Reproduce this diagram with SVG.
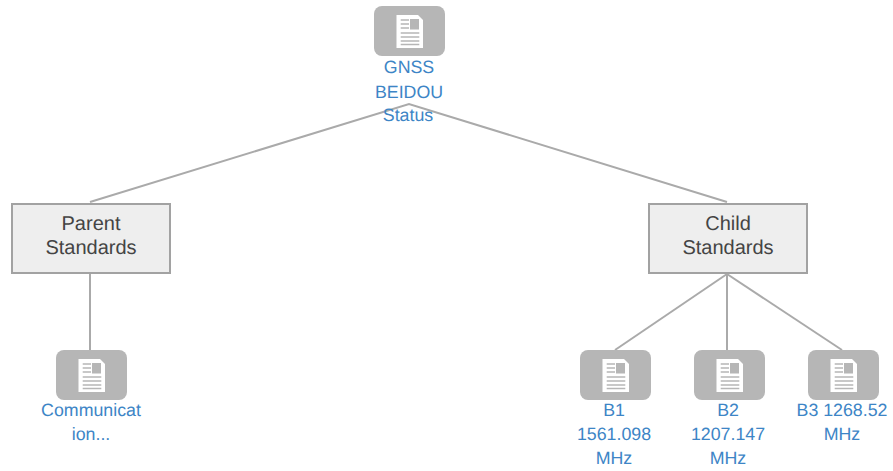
<svg xmlns="http://www.w3.org/2000/svg" width="893" height="471" viewBox="0 0 893 471">
<style>
text{font-family:"Liberation Sans",Arial,sans-serif;text-anchor:middle;text-rendering:geometricPrecision}
.l{font-size:17.8px;fill:#3d85c6}
.s{font-size:20px;fill:#444}
.box{fill:#eee;stroke:#a2a2a2;stroke-width:2}
.ic{fill:#b6b6b6}
.c{stroke:#aaa;stroke-width:2;fill:none}
</style>
<defs>
<g id="doc">
<rect x="0" y="0" width="71" height="50" rx="8" class="ic"/>
<path d="M22.500 9H44L49 14V42H22.500Z" fill="#fff"/>
<path d="M26.700 14H35M26.700 18H35M26.700 22H35" stroke="#b6b6b6" stroke-width="1.600" fill="none"/>
<rect x="36" y="13" width="9" height="10.500" fill="#b6b6b6"/>
<path d="M26.700 27H45.300M26.700 31H45.300M26.700 35H45.300M26.700 38.500H45.300" stroke="#b6b6b6" stroke-width="1.600" fill="none"/>
</g>
</defs>
<g id="connectors">
<path class="c" d="M90 202L409 104L727 202"/>
<path class="c" d="M90 273V350"/>
<path class="c" d="M727 274L615 350"/>
<path class="c" d="M727 274V350"/>
<path class="c" d="M727 274L842 350"/>
</g>
<g id="n-root">
<use href="#doc" x="374" y="6"/>
<text class="l" x="409" y="73">GNSS</text>
<text class="l" x="409" y="97.500">BEIDOU</text>
<text class="l" x="408" y="121">Status</text>
</g>
<g id="n-parent">
<rect class="box" x="12" y="204" width="158" height="69"/>
<text class="s" x="91" y="230">Parent</text>
<text class="s" x="91" y="254">Standards</text>
</g>
<g id="n-child">
<rect class="box" x="649" y="204" width="158" height="69"/>
<text class="s" x="728" y="230">Child</text>
<text class="s" x="728" y="254">Standards</text>
</g>
<g id="n-comm">
<use href="#doc" x="56" y="350"/>
<text class="l" x="91" y="416">Communicat</text>
<text class="l" x="91" y="440">ion...</text>
</g>
<g id="n-b1">
<use href="#doc" x="580" y="350"/>
<text class="l" x="614" y="416">B1</text>
<text class="l" x="614" y="440">1561.098</text>
<text class="l" x="614" y="464">MHz</text>
</g>
<g id="n-b2">
<use href="#doc" x="694" y="350"/>
<text class="l" x="728" y="416">B2</text>
<text class="l" x="728" y="440">1207.147</text>
<text class="l" x="728" y="464">MHz</text>
</g>
<g id="n-b3">
<use href="#doc" x="808" y="350"/>
<text class="l" x="842" y="416">B3 1268.52</text>
<text class="l" x="842" y="440">MHz</text>
</g>
</svg>
